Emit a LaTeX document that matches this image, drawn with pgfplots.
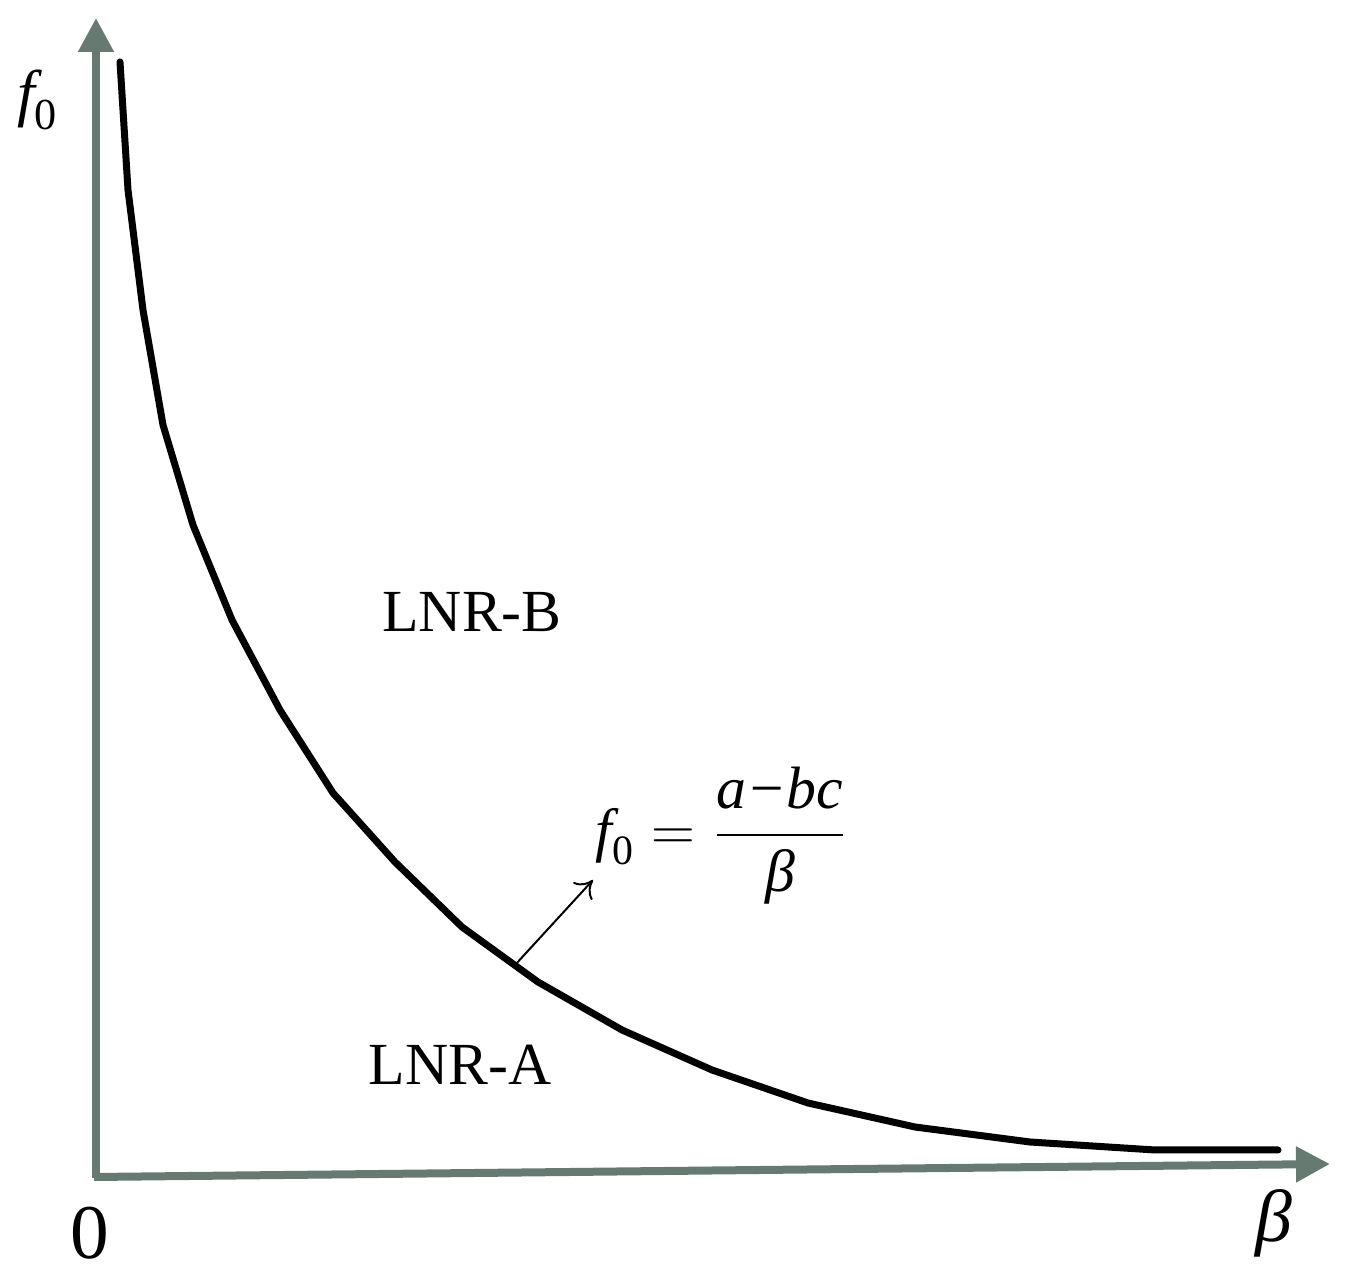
\documentclass[border=0pt]{standalone}
\usepackage{fontspec}
\setmainfont{Liberation Serif}
\usepackage{amsmath}
\usepackage{pgfplots}
\pgfplotsset{compat=1.18}
\usetikzlibrary{arrows.meta}
\definecolor{axgrey}{HTML}{667A72}
\newcommand{\ti}[1]{\text{\itshape #1}}
\begin{document}
\begin{tikzpicture}
\begin{axis}[
  x=0.1mm, y=0.1mm,
  xmin=-96, xmax=1254, ymin=-97, ymax=1178,
  hide axis, clip=false,
]
\path (axis cs:-96,-97) rectangle (axis cs:1254,1178);
% axes
\draw[axgrey, line width=0.8mm, -{Triangle[width=3.4mm,length=3.4mm]}] (axis cs:0,0) -- (axis cs:0,1160);
\draw[axgrey, line width=0.8mm, -{Triangle[width=3.4mm,length=3.4mm]}] (axis cs:-2,1) -- (axis cs:1234,14);
% curve
\addplot[black, line width=0.7mm, line cap=round, line join=round] coordinates {
(24,1116) (32,988) (47,868) (67,753) (97,653) (136,558) (184,468) (237,385)
(299,316) (366,251) (442,196) (526,148) (616,108) (712,75) (819,51) (934,36)
(1059,28) (1182,28)
};
% labels
\node[font=\fontsize{17}{20}\selectfont] at (axis cs:376,566) {LNR-B};
\node[font=\fontsize{17}{20}\selectfont] at (axis cs:364,113) {LNR-A};
\node[font=\fontsize{22}{26}\selectfont] at (axis cs:-6,-55) {0};
\node[font=\fontsize{21}{24}\selectfont] at (axis cs:1178,-45) {\itshape β};
\node[font=\fontsize{18}{20}\selectfont] at (axis cs:-58,1078) {$\ti{f}_{\text{0}}$};
\node[font=\fontsize{17}{20}\selectfont, anchor=west, inner sep=0pt] at (axis cs:499,342)
  {$\ti{f}_{\text{0}}\;{=}\;\dfrac{\text{\itshape a−bc}}{\ti{β}}$};
\draw[black, line width=0.2mm, -{To[length=1.6mm,width=2.6mm]}] (axis cs:419,213) -- (axis cs:497,298);
\end{axis}
\end{tikzpicture}
\end{document}
